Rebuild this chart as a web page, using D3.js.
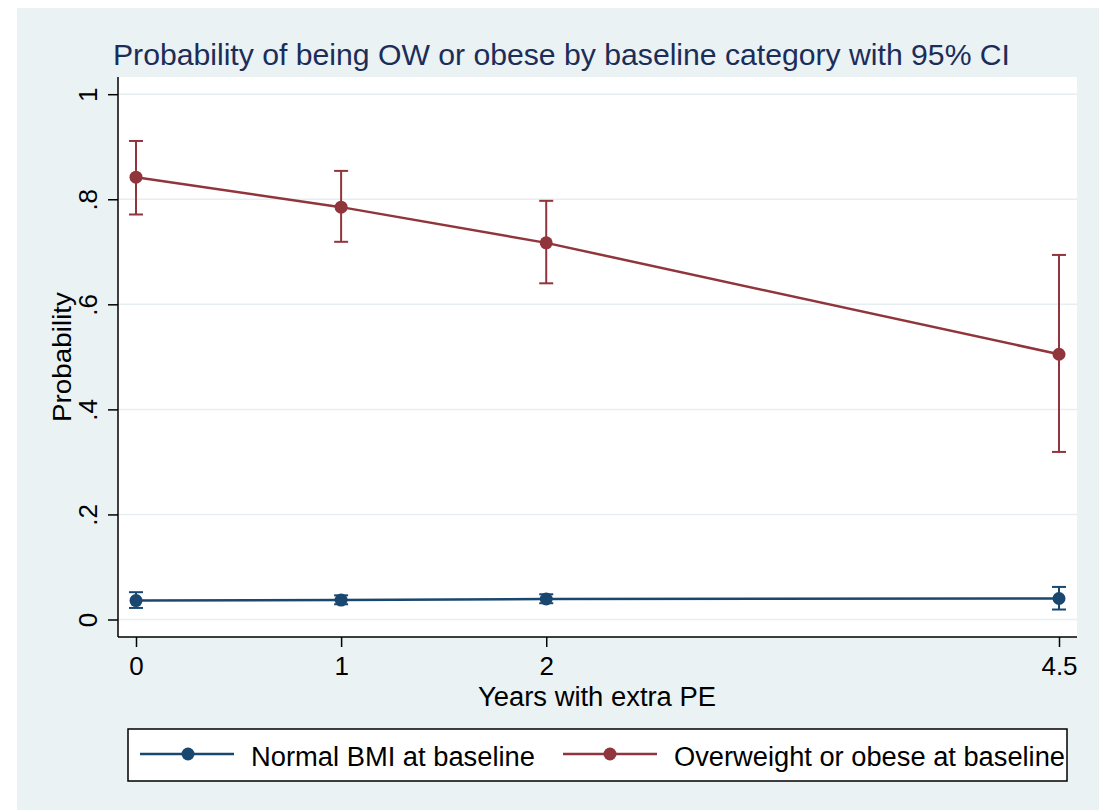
<!DOCTYPE html>
<html>
<head>
<meta charset="utf-8">
<script src="https://cdn.jsdelivr.net/npm/d3@7"></script>
<style>
  html, body { margin: 0; padding: 0; background: #ffffff; }
  svg { display: block; }
  text { font-family: "Liberation Sans", Arial, Helvetica, sans-serif; }
</style>
</head>
<body>
<svg id="chart" width="1099" height="810"></svg>
<script>
// ---- data ----
const years = [0, 1, 2, 4.5];
const xTickLabels = ["0", "1", "2", "4.5"];
const yTicks = [0, 0.2, 0.4, 0.6, 0.8, 1];
const yTickLabels = ["0", ".2", ".4", ".6", ".8", "1"];

const normalProb = [0.036, 0.037, 0.039, 0.040];
const normalLo   = [0.022, 0.029, 0.031, 0.019];
const normalHi   = [0.052, 0.046, 0.048, 0.062];

const owProb = [0.842, 0.785, 0.717, 0.505];
const owLo   = [0.771, 0.719, 0.640, 0.319];
const owHi   = [0.911, 0.854, 0.797, 0.694];

const seriesNames = ["Normal BMI at baseline", "Overweight or obese at baseline"];
const seriesColors = ["#1a476f", "#90353b"];

const titleText = "Probability of being OW or obese by baseline category with 95% CI";
const xTitle = "Years with extra PE";
const yTitle = "Probability";

// ---- layout ----
const svg = d3.select("#chart");
const plot = { left: 118, right: 1077, top: 77, bottom: 637 };

const x = d3.scaleLinear().domain([0, 4.5]).range([136, 1059]);
const y = d3.scaleLinear().domain([0, 1]).range([619.5, 94.2]);

// background
svg.append("rect").attr("x", 17).attr("y", 8).attr("width", 1099 - 17).attr("height", 810 - 8)
  .attr("fill", "#eaf2f3");
// plot region
svg.append("rect").attr("x", plot.left).attr("y", plot.top)
  .attr("width", plot.right - plot.left).attr("height", plot.bottom - plot.top)
  .attr("fill", "#ffffff");

// gridlines
svg.append("g").selectAll("line").data(yTicks).join("line")
  .attr("x1", plot.left).attr("x2", plot.right)
  .attr("y1", d => y(d)).attr("y2", d => y(d))
  .attr("stroke", "#e6eef1").attr("stroke-width", 1.5);

// title
svg.append("text").attr("x", 113).attr("y", 65)
  .attr("font-size", 30).attr("fill", "#1c2d59")
  .attr("textLength", 897).attr("lengthAdjust", "spacingAndGlyphs")
  .text(titleText);

// y axis
const yAxis = d3.axisLeft(y).tickValues(yTicks).tickSize(10).tickFormat((d, i) => yTickLabels[i]);
const gy = svg.append("g").attr("transform", `translate(${plot.left},0)`).call(yAxis);
gy.select(".domain").remove();
gy.selectAll(".tick line").attr("stroke", "#000").attr("stroke-width", 1.5);
gy.selectAll(".tick text")
  .attr("x", 0).attr("dy", 0)
  .attr("transform", "translate(-21,0) rotate(-90)")
  .attr("text-anchor", "middle")
  .attr("font-size", 26).attr("fill", "#000")
  .attr("font-family", '"Liberation Sans", Arial, sans-serif');
svg.append("line").attr("x1", plot.left).attr("x2", plot.left)
  .attr("y1", plot.top).attr("y2", plot.bottom)
  .attr("stroke", "#000").attr("stroke-width", 1.5);

// x axis
const xAxis = d3.axisBottom(x).tickValues(years).tickSize(10).tickFormat((d, i) => xTickLabels[i]);
const gx = svg.append("g").attr("transform", `translate(0,${plot.bottom})`).call(xAxis);
gx.select(".domain").remove();
gx.selectAll(".tick line").attr("stroke", "#000").attr("stroke-width", 1.5);
gx.selectAll(".tick text")
  .attr("y", 38).attr("dy", 0)
  .attr("font-size", 26).attr("fill", "#000")
  .attr("font-family", '"Liberation Sans", Arial, sans-serif');
svg.append("line").attr("x1", plot.left).attr("x2", plot.right)
  .attr("y1", plot.bottom).attr("y2", plot.bottom)
  .attr("stroke", "#000").attr("stroke-width", 1.5);

// axis titles
svg.append("text").attr("x", 597).attr("y", 706).attr("text-anchor", "middle")
  .attr("font-size", 27).attr("fill", "#000")
  .attr("textLength", 238).attr("lengthAdjust", "spacingAndGlyphs")
  .text(xTitle);
svg.append("text")
  .attr("transform", `translate(71,${(plot.top + plot.bottom) / 2}) rotate(-90)`)
  .attr("text-anchor", "middle")
  .attr("font-size", 26).attr("fill", "#000")
  .attr("textLength", 130).attr("lengthAdjust", "spacingAndGlyphs")
  .text(yTitle);

// series
const series = [
  { prob: normalProb, lo: normalLo, hi: normalHi, color: seriesColors[0] },
  { prob: owProb, lo: owLo, hi: owHi, color: seriesColors[1] }
];
const line = d3.line().x(d => x(d[0])).y(d => y(d[1]));
const capW = 7;
series.forEach(s => {
  const g = svg.append("g");
  const pts = years.map((yr, i) => [yr, s.prob[i], s.lo[i], s.hi[i]]);
  // CI
  g.selectAll("line.ci").data(pts).join("line").attr("class", "ci")
    .attr("x1", d => x(d[0])).attr("x2", d => x(d[0]))
    .attr("y1", d => y(d[2])).attr("y2", d => y(d[3]))
    .attr("stroke", s.color).attr("stroke-width", 2);
  g.selectAll("line.caplo").data(pts).join("line").attr("class", "caplo")
    .attr("x1", d => x(d[0]) - capW).attr("x2", d => x(d[0]) + capW)
    .attr("y1", d => y(d[2])).attr("y2", d => y(d[2]))
    .attr("stroke", s.color).attr("stroke-width", 2);
  g.selectAll("line.caphi").data(pts).join("line").attr("class", "caphi")
    .attr("x1", d => x(d[0]) - capW).attr("x2", d => x(d[0]) + capW)
    .attr("y1", d => y(d[3])).attr("y2", d => y(d[3]))
    .attr("stroke", s.color).attr("stroke-width", 2);
  // line
  g.append("path").datum(pts).attr("d", line)
    .attr("fill", "none").attr("stroke", s.color).attr("stroke-width", 2.5);
  // markers
  g.selectAll("circle").data(pts).join("circle")
    .attr("cx", d => x(d[0])).attr("cy", d => y(d[1])).attr("r", 6.5)
    .attr("fill", s.color);
});

// legend
const lg = svg.append("g");
lg.append("rect").attr("x", 128).attr("y", 729).attr("width", 1067 - 128).attr("height", 781 - 729)
  .attr("fill", "#ffffff").attr("stroke", "#000").attr("stroke-width", 1.5);
const legendItems = [
  { x0: 140, x1: 234, mx: 188, tx: 251, tl: 284 },
  { x0: 563, x1: 657, mx: 610, tx: 674, tl: 391 }
];
legendItems.forEach((it, i) => {
  lg.append("line").attr("x1", it.x0).attr("x2", it.x1).attr("y1", 754).attr("y2", 754)
    .attr("stroke", seriesColors[i]).attr("stroke-width", 2.5);
  lg.append("circle").attr("cx", it.mx).attr("cy", 754).attr("r", 6.5).attr("fill", seriesColors[i]);
  lg.append("text").attr("x", it.tx).attr("y", 765.5).attr("font-size", 27).attr("fill", "#000")
    .attr("textLength", it.tl).attr("lengthAdjust", "spacingAndGlyphs")
    .text(seriesNames[i]);
});
</script>
</body>
</html>
